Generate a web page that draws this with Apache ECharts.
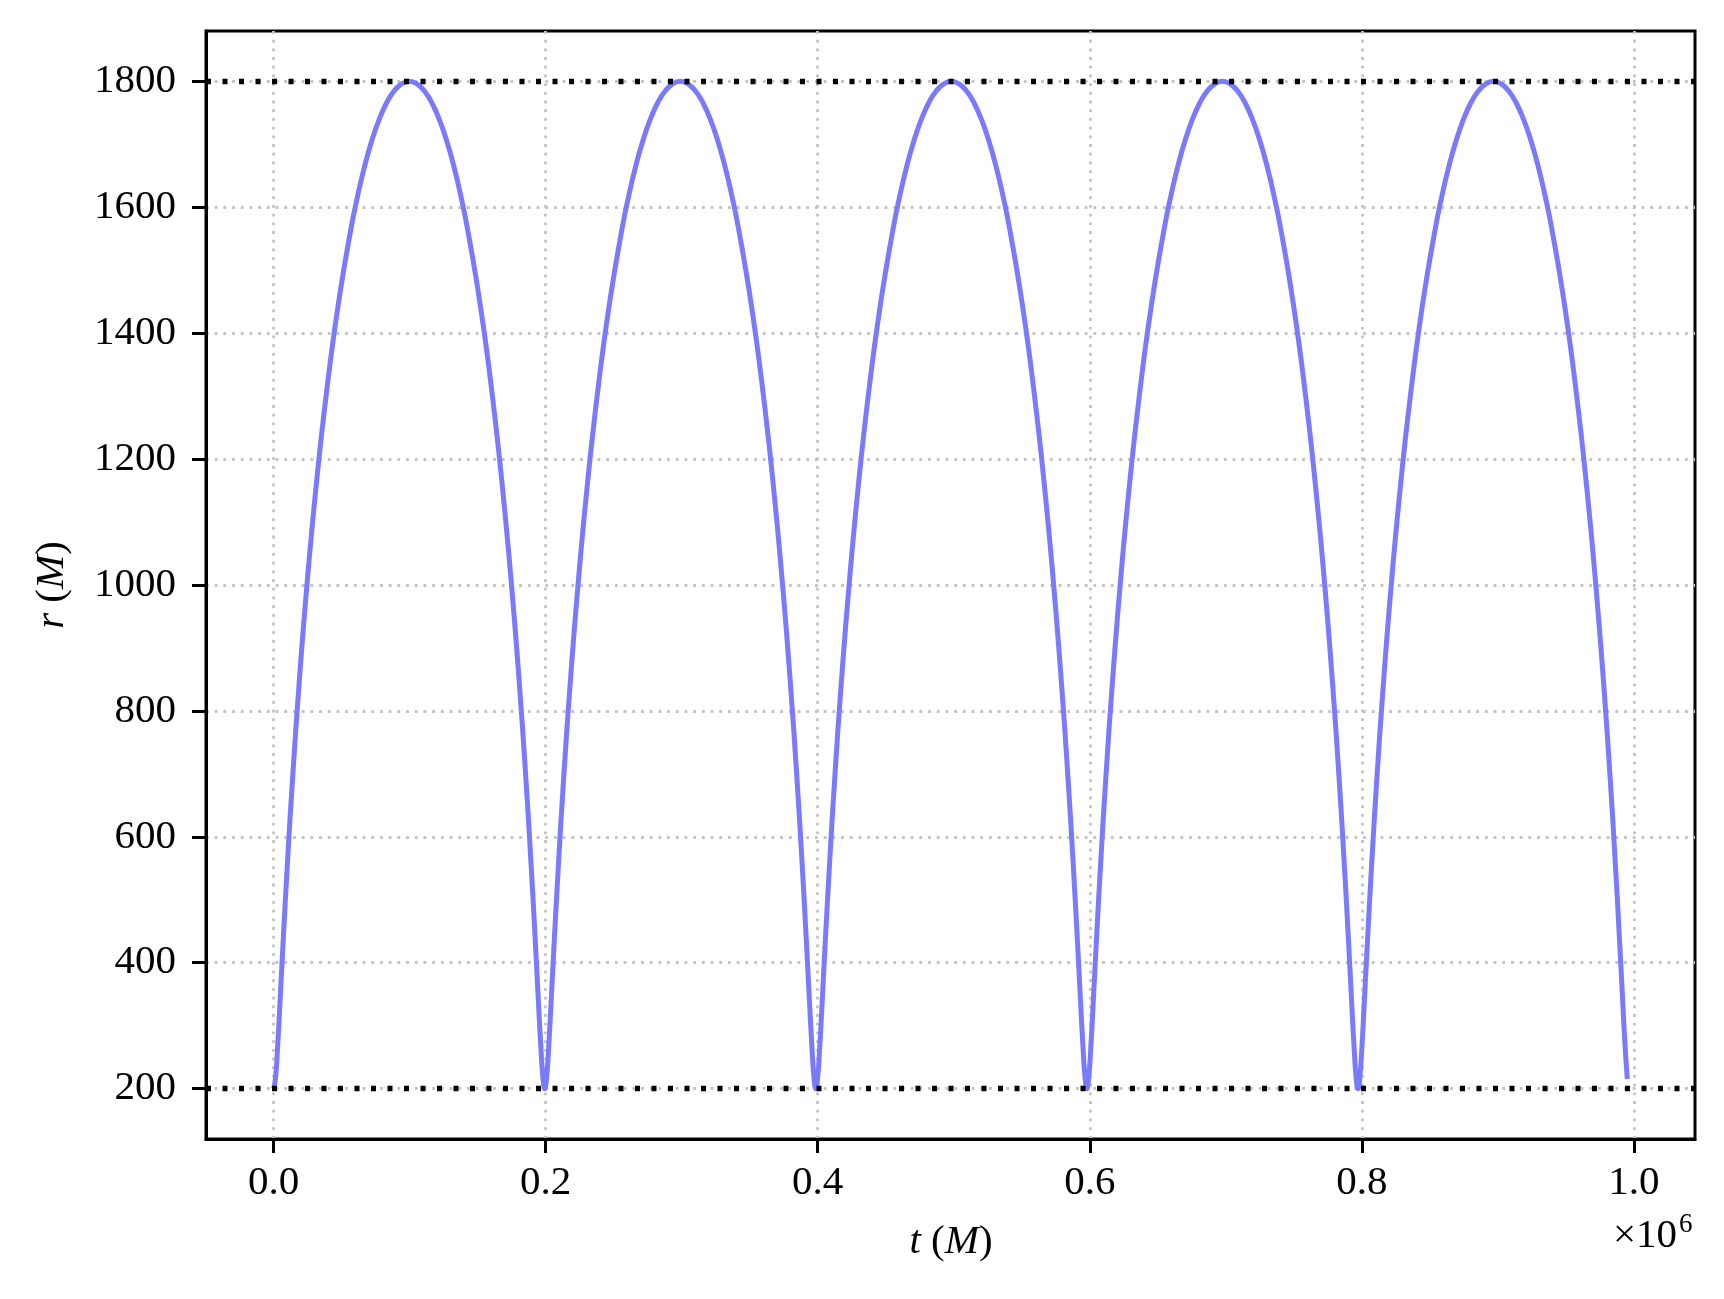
<!DOCTYPE html>
<html><head><meta charset="utf-8">
<script src="https://cdn.jsdelivr.net/npm/echarts@6/dist/echarts.min.js"></script>
<style>html,body{margin:0;padding:0;background:#fff}#c{width:1724px;height:1299px}</style>
</head><body><div id="c"></div>
<script>
// radius over one radial period (same shape each orbit)
const rOrbit = [200, 215.4, 260.9, 334.8, 434.3, 555.5, 693.9, 843.9, 1000, 1156.1, 1306.1, 1444.5, 1565.7, 1618.4, 1665.2, 1705.5, 1739.1, 1765.6, 1784.6, 1796.1, 1800, 1796.1, 1784.6, 1765.6, 1739.1, 1705.5, 1665.2, 1618.4, 1565.7, 1444.5, 1306.1, 1156.1, 1000, 843.9, 693.9, 555.5, 434.3, 334.8, 260.9, 215.4];
// times (M) for each orbit
const tOrbit1 = [0, 1278, 2745, 4586, 6969, 10042, 13925, 18709, 24450, 31166, 38838, 47411, 56795, 61754, 66868, 72119, 77484, 82943, 88473, 94050, 99651, 105252, 110829, 116359, 121818, 127183, 132434, 137548, 142507, 151891, 160464, 168136, 174852, 180593, 185377, 189260, 192333, 194716, 196557, 198024];
const tOrbit2 = [199302, 200580, 202047, 203888, 206271, 209344, 213227, 218011, 223752, 230468, 238140, 246713, 256097, 261056, 266170, 271421, 276786, 282245, 287775, 293352, 298953, 304554, 310131, 315661, 321120, 326485, 331736, 336850, 341809, 351193, 359766, 367438, 374154, 379895, 384679, 388562, 391635, 394018, 395859, 397326];
const tOrbit3 = [398604, 399882, 401349, 403190, 405573, 408646, 412529, 417313, 423054, 429770, 437442, 446015, 455399, 460358, 465472, 470723, 476088, 481547, 487077, 492654, 498255, 503856, 509433, 514963, 520422, 525787, 531038, 536152, 541111, 550495, 559068, 566740, 573456, 579197, 583981, 587864, 590937, 593320, 595161, 596628];
const tOrbit4 = [597906, 599184, 600651, 602492, 604875, 607948, 611831, 616615, 622356, 629072, 636744, 645317, 654701, 659660, 664774, 670025, 675390, 680849, 686379, 691956, 697557, 703158, 708735, 714265, 719724, 725089, 730340, 735454, 740413, 749797, 758370, 766042, 772758, 778499, 783283, 787166, 790239, 792622, 794463, 795930];
const tOrbit5 = [797208, 798486, 799953, 801794, 804177, 807250, 811133, 815917, 821658, 828374, 836046, 844619, 854003, 858962, 864076, 869327, 874692, 880151, 885681, 891258, 896859, 902460, 908037, 913567, 919026, 924391, 929642, 934756, 939715, 949099, 957672, 965344, 972060, 977801, 982585, 986468, 989541, 991924, 993765, 995232];
const xTicks = [0, 200000, 400000, 600000, 800000, 1000000];
const yTicks = [200, 400, 600, 800, 1000, 1200, 1400, 1600, 1800];
const refLines = [200, 1800];
const xRange = [-49762, 1044994];
const yRange = [120, 1880];

const data = [];
[tOrbit1, tOrbit2, tOrbit3, tOrbit4, tOrbit5].forEach(ts => {
  ts.forEach((t, i) => data.push([t, rOrbit[i]]));
});

const FONT = "'Liberation Serif', 'DejaVu Serif', serif";
const chart = echarts.init(document.getElementById('c'), null, {renderer: 'canvas'});
const gridLine = {show: true, lineStyle: {color: '#c4c4c4', width: 2.8, type: [2.8, 5.9]}};
chart.setOption({
  animation: false,
  backgroundColor: '#fff',
  grid: {left: 206, top: 31, width: 1489, height: 1108, show: true, borderColor: '#000', borderWidth: 3, backgroundColor: 'transparent'},
  xAxis: {
    type: 'value', min: xRange[0], max: xRange[1],
    axisLine: {show: true, onZero: false, lineStyle: {color: '#000', width: 3}},
    axisTick: {show: true, inside: false, length: 14, lineStyle: {color: '#000', width: 3}, customValues: xTicks},
    axisLabel: {show: true, margin: 24, color: '#000', fontSize: 41, fontFamily: FONT, customValues: xTicks,
      formatter: v => (v / 1e6).toFixed(1)},
    splitLine: gridLine
  },
  yAxis: {
    type: 'value', min: yRange[0], max: yRange[1],
    axisLine: {show: true, onZero: false, lineStyle: {color: '#000', width: 3}},
    axisTick: {show: true, inside: false, length: 14, lineStyle: {color: '#000', width: 3}, customValues: yTicks},
    axisLabel: {show: true, margin: 30, color: '#000', fontSize: 41, fontFamily: FONT, customValues: yTicks,
      formatter: v => String(v)},
    splitLine: gridLine
  },
  series: [{
    type: 'line', data: data, showSymbol: false, smooth: 0.5, clip: true, z: 3,
    lineStyle: {color: '#7a7aff', width: 5},
    markLine: {
      silent: true, symbol: ['none', 'none'], animation: false, z: 5,
      label: {show: false},
      lineStyle: {color: '#000', width: 5.4, type: [5, 11.5], opacity: 1},
      emphasis: {disabled: true},
      data: refLines.map(v => ({yAxis: v}))
    }
  }],
  graphic: [
    {type: 'text', x: 951, y: 1242, style: {text: '{i|t} ({i|M})', textAlign: 'center', textVerticalAlign: 'middle', align: 'center', verticalAlign: 'middle', fill: '#000', font: '41px ' + FONT,
      rich: {i: {fontStyle: 'italic', fontSize: 41, fontFamily: FONT, fill: '#000'}}}},
    {type: 'text', x: 52, y: 585, rotation: Math.PI / 2, style: {text: '{i|r} ({i|M})', textAlign: 'center', textVerticalAlign: 'middle', align: 'center', verticalAlign: 'middle', fill: '#000', font: '41px ' + FONT,
      rich: {i: {fontStyle: 'italic', fontSize: 41, fontFamily: FONT, fill: '#000'}}}},
    {type: 'text', x: 1677, y: 1236, style: {text: '×10', textAlign: 'right', textVerticalAlign: 'middle', align: 'right', verticalAlign: 'middle', fill: '#000', font: '41px ' + FONT}},
    {type: 'text', x: 1679, y: 1225, style: {text: '6', textAlign: 'left', textVerticalAlign: 'middle', align: 'left', verticalAlign: 'middle', fill: '#000', font: '27px ' + FONT}}
  ]
});
</script></body></html>
